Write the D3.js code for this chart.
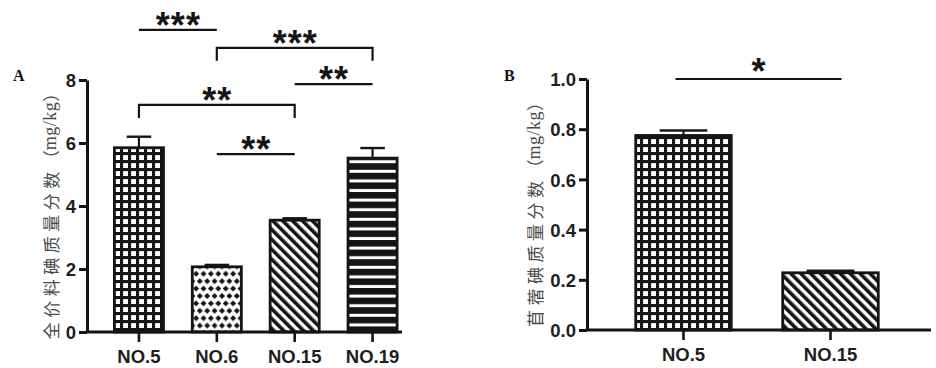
<!DOCTYPE html>
<html><head><meta charset="utf-8">
<script src="https://cdn.jsdelivr.net/npm/d3@7"></script>
<style>
html,body{margin:0;padding:0;background:#fff;}
svg{display:block;}
</style></head>
<body>
<svg id="chart" width="936" height="368"></svg>
<script>
// ---------- data ----------
const categoriesA = ["NO.5", "NO.6", "NO.15", "NO.19"];
const meansA = [5.85, 2.07, 3.55, 5.52];
const errorsA = [0.35, 0.06, 0.06, 0.32];
const patternsA = ["grid", "diamond", "diag", "hstripe"];
const ticksA = [0, 2, 4, 6, 8];
const sigFromA = ["NO.5", "NO.6", "NO.15", "NO.5", "NO.6"];
const sigToA = ["NO.6", "NO.19", "NO.19", "NO.15", "NO.15"];
const sigYA = [9.59, 9.02, 7.87, 7.21, 5.65];
const sigLabelA = ["***", "***", "**", "**", "**"];
const sigBracketA = [false, true, false, true, false];
const yLabelA = "全价料碘质量分数";

const categoriesB = ["NO.5", "NO.15"];
const meansB = [0.775, 0.228];
const errorsB = [0.02, 0.008];
const patternsB = ["grid", "diag"];
const ticksB = [0, 0.2, 0.4, 0.6, 0.8, 1.0];
const sigFromB = ["NO.5"];
const sigToB = ["NO.15"];
const sigYB = [1.0];
const sigLabelB = ["*"];
const yLabelB = "苜蓿碘质量分数";
const unitLabel = "mg/kg";

// ---------- setup ----------
const svg = d3.select("#chart");
const INK = "#141414";
const defs = svg.append("defs");

// grid: black with white squares
const pg = defs.append("pattern").attr("id","grid").attr("patternUnits","userSpaceOnUse")
  .attr("width",8).attr("height",8);
pg.append("rect").attr("width",8).attr("height",8).attr("fill",INK);
pg.append("rect").attr("x",3.1).attr("y",3.1).attr("width",4.9).attr("height",4.9).attr("fill","#fff");

// diamonds
const pd = defs.append("pattern").attr("id","diamond").attr("patternUnits","userSpaceOnUse")
  .attr("width",7.4).attr("height",14.8);
pd.append("rect").attr("width",7.4).attr("height",14.8).attr("fill","#fff");
const dr = 3.0;
[[0,0],[7.4,0],[3.7,7.4],[0,14.8],[7.4,14.8]].forEach(([cx,cy])=>{
  pd.append("path").attr("d",`M${cx},${cy-dr}L${cx+dr},${cy}L${cx},${cy+dr}L${cx-dr},${cy}Z`).attr("fill",INK);
});

// diagonal stripes "\"
const ps = defs.append("pattern").attr("id","diag").attr("patternUnits","userSpaceOnUse")
  .attr("width",7).attr("height",7).attr("patternTransform","rotate(-45)");
ps.append("rect").attr("width",7).attr("height",7).attr("fill","#fff");
ps.append("rect").attr("width",3.6).attr("height",7).attr("fill",INK);

// horizontal stripes
const ph = defs.append("pattern").attr("id","hstripe").attr("patternUnits","userSpaceOnUse")
  .attr("width",10).attr("height",9.6);
ph.append("rect").attr("width",10).attr("height",9.6).attr("fill",INK);
ph.append("rect").attr("y",6.6).attr("width",10).attr("height",3).attr("fill","#fff");

const tickFont = "'Liberation Sans Narrow','Arial Narrow','Liberation Sans',Arial,sans-serif";

function panel(cfg){
  const {cats, means, errs, pats, ticks, fmt, x, y, axisX, axisEndX, letter, letterX,
         labelX, ylabel, sig, sigOffset, sigExtend} = cfg;
  const g = svg.append("g");
  const y0 = y(0);

  // bars
  cats.forEach((c,i)=>{
    const bx = x(c), bw = x.bandwidth();
    g.append("rect").attr("x",bx).attr("y",y(means[i])).attr("width",bw)
      .attr("height",y0 - y(means[i])).attr("fill",`url(#${pats[i]})`)
      .attr("stroke",INK).attr("stroke-width",2.8);
    // error bar (upper only)
    const cx = bx + bw/2;
    g.append("line").attr("x1",cx).attr("x2",cx).attr("y1",y(means[i])).attr("y2",y(means[i]+errs[i]))
      .attr("stroke",INK).attr("stroke-width",2.2);
    g.append("line").attr("x1",cx-bw/4).attr("x2",cx+bw/4).attr("y1",y(means[i]+errs[i])).attr("y2",y(means[i]+errs[i]))
      .attr("stroke",INK).attr("stroke-width",2.4);
  });

  // y axis
  const ya = g.append("g").attr("transform",`translate(${axisX},0)`)
    .call(d3.axisLeft(y).tickValues(ticks).tickFormat(fmt).tickSize(8).tickPadding(3).tickSizeOuter(0));
  ya.select(".domain").attr("stroke",INK).attr("stroke-width",3);
  ya.selectAll(".tick line").attr("stroke",INK).attr("stroke-width",3);
  ya.selectAll(".tick text").attr("fill","#1e1e1e").style("font-family",tickFont)
    .style("font-weight","bold").style("font-size","18.5px").attr("dy","0.36em");

  // x axis
  const xa = g.append("g").attr("transform",`translate(0,${y0})`)
    .call(d3.axisBottom(x).tickSize(10).tickPadding(8).tickSizeOuter(0));
  xa.select(".domain").remove();
  xa.selectAll(".tick line").attr("stroke",INK).attr("stroke-width",2.6);
  xa.selectAll(".tick text").attr("fill","#1e1e1e").style("font-family",tickFont)
    .style("font-weight","bold").style("font-size","18.5px");
  g.append("line").attr("x1",axisX-1.5).attr("x2",axisEndX).attr("y1",y0).attr("y2",y0)
    .attr("stroke",INK).attr("stroke-width",3);

  // panel letter
  g.append("text").attr("x",letterX).attr("y",81).text(letter)
    .style("font-family","'Liberation Serif','Times New Roman',serif").style("font-weight","bold")
    .style("font-size","16px").attr("fill","#111");

  // y label
  const cy = (y(ticks[ticks.length-1]) + y0)/2 + 6;
  const t = g.append("text").attr("transform",`translate(${labelX},${cy}) rotate(-90)`)
    .attr("text-anchor","middle").attr("dominant-baseline","central").attr("fill","#4a4a4a");
  t.append("tspan").text(ylabel).style("font-family","'Noto Sans CJK SC',sans-serif")
    .style("font-size","17px").style("font-weight","400").style("letter-spacing","4.5px");
  t.append("tspan").text("（").style("font-family","'Noto Sans CJK SC',sans-serif").style("font-size","17px").style("font-weight","400");
  t.append("tspan").text(unitLabel).style("font-family","'Liberation Serif',serif").style("font-size","18px").style("letter-spacing","0.5px");
  t.append("tspan").text("）").style("font-family","'Noto Sans CJK SC',sans-serif").style("font-size","17px").style("font-weight","400");

  // significance
  sig.forEach(s=>{
    const x1 = x(s.from) + x.bandwidth()/2 - sigExtend[0];
    const x2 = x(s.to) + x.bandwidth()/2 + sigExtend[1];
    const yy = y(s.y);
    if (s.bracket){
      g.append("path").attr("d",`M${x1},${yy+13}V${yy}H${x2}V${yy+13}`)
        .attr("fill","none").attr("stroke",INK).attr("stroke-width",2.2);
    } else {
      g.append("line").attr("x1",x1).attr("x2",x2).attr("y1",yy).attr("y2",yy)
        .attr("stroke",INK).attr("stroke-width",2.2);
    }
    const fs = 36;
    g.append("text").attr("x",(x1+x2)/2 + 0.5).attr("y", yy - sigOffset + 0.56*fs)
      .attr("text-anchor","middle").text(s.label)
      .style("font-family","'Liberation Sans',Arial,sans-serif").style("font-weight","bold")
      .style("font-size",fs+"px").style("letter-spacing","1px").attr("fill",INK);
  });
}

const xA = d3.scaleBand().domain(categoriesA).range([100,411.5]).paddingInner(0.37).paddingOuter(0.185);
const yA = d3.scaleLinear().domain([0,8]).range([332,80]);
panel({
  cats:categoriesA, means:meansA, errs:errorsA, pats:patternsA, ticks:ticksA, fmt:d3.format("d"),
  x:xA, y:yA, axisX:87, axisEndX:402, letter:"A", letterX:13, labelX:50, ylabel:yLabelA,
  sig: sigFromA.map((f,i)=>({from:f, to:sigToA[i], y:sigYA[i], label:sigLabelA[i], bracket:sigBracketA[i]})),
  sigOffset:12.5, sigExtend:[0,0]
});

const xB = d3.scaleBand().domain(categoriesB).range([610,904]).paddingInner(0.35).paddingOuter(0.175);
const yB = d3.scaleLinear().domain([0,1]).range([330,79]);
panel({
  cats:categoriesB, means:meansB, errs:errorsB, pats:patternsB, ticks:ticksB, fmt:d3.format(".1f"),
  x:xB, y:yB, axisX:587, axisEndX:931, letter:"B", letterX:504, labelX:534, ylabel:yLabelB,
  sig: sigFromB.map((f,i)=>({from:f, to:sigToB[i], y:sigYB[i], label:sigLabelB[i], bracket:false})),
  sigOffset:15, sigExtend:[8,11]
});
</script>
</body></html>
